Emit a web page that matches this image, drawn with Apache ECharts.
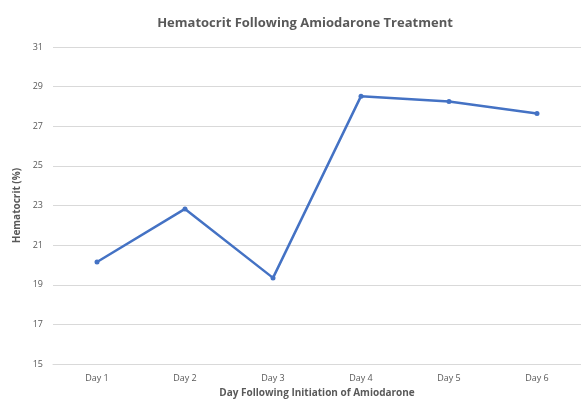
<!DOCTYPE html>
<html>
<head>
<meta charset="utf-8">
<script src="https://cdn.jsdelivr.net/npm/echarts@6/dist/echarts.min.js"></script>
<style>html,body{margin:0;padding:0;background:#fff;}#c{width:581px;height:403px;}</style>
</head>
<body>
<div id="c"></div>
<script>
var categories = ['Day 1', 'Day 2', 'Day 3', 'Day 4', 'Day 5', 'Day 6'];
var hematocrit = [20.15, 22.83, 19.35, 28.52, 28.25, 27.65];
var yMin = 15, yMax = 31, yStep = 2;

var chart = echarts.init(document.getElementById('c'));
chart.setOption({
  animation: false,
  textStyle: { fontFamily: 'Open Sans, Liberation Sans, sans-serif' },
  title: {
    text: 'Hematocrit Following Amiodarone Treatment',
    left: 300, top: 12, textAlign: 'center',
    textStyle: { fontSize: 13, fontWeight: 'bold', color: '#595959', fontFamily: 'Open Sans, Liberation Sans, sans-serif' }
  },
  grid: { left: 53, top: 47, width: 535, height: 320, containLabel: false },
  xAxis: {
    type: 'category', data: categories, boundaryGap: true,
    name: 'Day Following Initiation of Amiodarone', nameLocation: 'middle', nameGap: 22,
    nameTextStyle: { fontSize: 10, fontWeight: 'bold', color: '#595959' },
    axisLine: { show: true, lineStyle: { color: '#d9d9d9' } },
    axisTick: { show: false },
    axisLabel: { fontSize: 9, color: '#595959', margin: 10 }
  },
  yAxis: {
    type: 'value', min: yMin, max: yMax, interval: yStep,
    name: 'Hematocrit (%)', nameLocation: 'middle', nameGap: 27, nameRotate: 90,
    nameTextStyle: { fontSize: 10, fontWeight: 'bold', color: '#595959' },
    axisLine: { show: false }, axisTick: { show: false },
    axisLabel: { fontSize: 9, color: '#595959', margin: 10 },
    splitLine: { lineStyle: { color: '#d9d9d9', width: 1 } }
  },
  series: [{
    type: 'line', data: hematocrit,
    symbol: 'circle', symbolSize: 5,
    lineStyle: { color: '#4472C4', width: 2.5 },
    itemStyle: { color: '#4472C4' }
  }]
});
</script>
</body>
</html>
